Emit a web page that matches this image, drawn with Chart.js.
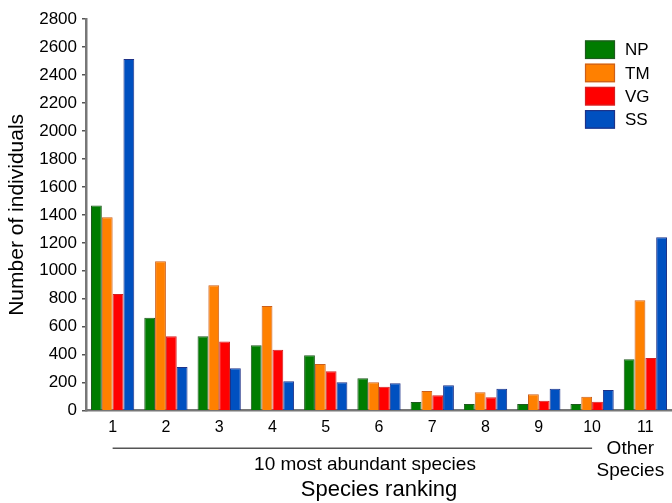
<!DOCTYPE html>
<html>
<head>
<meta charset="utf-8">
<script src="https://cdn.jsdelivr.net/npm/chart.js@4.4.0/dist/chart.umd.min.js"></script>
<style>
  html, body { margin: 0; padding: 0; background: #fff; }
  #wrap { width: 672px; height: 503px; position: relative; }
</style>
</head>
<body>
<div id="wrap"><canvas id="c" width="672" height="503"></canvas></div>
<script>
const categories = ['1', '2', '3', '4', '5', '6', '7', '8', '9', '10', '11'];
const seriesNames = ['NP', 'TM', 'VG', 'SS'];
const npValues = [1466, 665, 532, 468, 396, 232, 62, 48, 48, 48, 368];
const tmValues = [1383, 1069, 897, 749, 334, 203, 141, 132, 117, 100, 790];
const vgValues = [835, 532, 494, 436, 282, 172, 110, 96, 72, 64, 377];
const ssValues = [2514, 313, 303, 210, 203, 196, 182, 157, 157, 148, 1240];
const yTickMax = 2800;
const yTickStep = 200;
const groupLabel = '10 most abundant species';
const otherLabel = ['Other', 'Species'];
const xTitle = 'Species ranking';
const yTitle = 'Number of individuals';

const fills = ['#007c00', '#ff8000', '#ff0000', '#0050c0'];
const borders = ['#1f5a1f', '#cc5f1a', '#d42020', '#1e3288'];
const FONT = "'Liberation Sans', Arial, sans-serif";

const annotPlugin = {
  id: 'annot',
  afterDraw(chart) {
    const ctx = chart.ctx;
    const x = chart.scales.x;
    ctx.save();
    const x0 = x.getPixelForValue(0);
    const x1 = x.getPixelForValue(9);
    ctx.strokeStyle = '#555';
    ctx.lineWidth = 1.5;
    ctx.beginPath();
    ctx.moveTo(x0, 448.3);
    ctx.lineTo(x1, 448.3);
    ctx.stroke();
    ctx.fillStyle = '#000';
    ctx.textAlign = 'center';
    ctx.textBaseline = 'middle';
    ctx.font = '19px ' + FONT;
    ctx.fillText(groupLabel, 365, 465);
    const xo = x.getPixelForValue(10) - 15;
    ctx.fillText(otherLabel[0], xo, 449);
    ctx.fillText(otherLabel[1], xo, 471);
    const lx = 585, ly = 40.5, bw = 30, bh = 18.5, step = 23.2;
    ctx.textAlign = 'left';
    ctx.font = '17px ' + FONT;
    chart.data.datasets.forEach((ds, i) => {
      const y = ly + i * step;
      ctx.fillStyle = ds.backgroundColor;
      ctx.fillRect(lx, y, bw, bh);
      ctx.strokeStyle = ds.borderColor;
      ctx.lineWidth = 1.2;
      ctx.strokeRect(lx + 0.5, y + 0.5, bw - 1, bh - 1);
      ctx.fillStyle = '#000';
      ctx.fillText(ds.label, 625, y + bh / 2 + 1);
    });
    ctx.restore();
  }
};

const valueSets = [npValues, tmValues, vgValues, ssValues];
const datasets = seriesNames.map((name, i) => ({
  label: name,
  data: valueSets[i],
  backgroundColor: fills[i],
  borderColor: borders[i],
  borderWidth: 1,
  barPercentage: 1,
  categoryPercentage: 0.812
}));

new Chart(document.getElementById('c'), {
  type: 'bar',
  data: { labels: categories, datasets },
  options: {
    responsive: false,
    animation: false,
    devicePixelRatio: 1,
    layout: { padding: { top: 19, right: 0, bottom: 0, left: 0 } },
    plugins: { legend: { display: false }, tooltip: { enabled: false } },
    scales: {
      x: {
        grid: { display: false, drawTicks: false },
        border: { display: true, color: '#777', width: 2.5 },
        ticks: { color: '#000', font: { family: FONT, size: 16 }, padding: 7, maxRotation: 0 },
        title: { display: true, text: xTitle, color: '#000', font: { family: FONT, size: 22 }, padding: { top: 0, bottom: 0 } },
        afterFit(s) { s.height = 92.3; }
      },
      y: {
        min: 0,
        max: yTickMax,
        grid: { drawOnChartArea: false, drawTicks: true, tickLength: 4, color: '#555', lineWidth: 1.5 },
        border: { display: true, color: '#777', width: 2.5 },
        ticks: { stepSize: yTickStep, color: '#000', font: { family: FONT, size: 17 }, padding: 5, callback: (v) => String(v) },
        title: { display: true, text: yTitle, color: '#000', font: { family: FONT, size: 21 }, padding: { top: 5, bottom: 0 } },
        afterFit(s) { s.width = 86; }
      }
    }
  },
  plugins: [annotPlugin]
});
</script>
</body>
</html>
